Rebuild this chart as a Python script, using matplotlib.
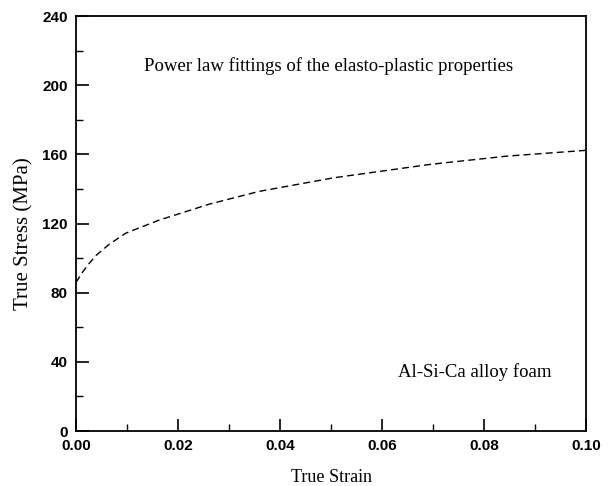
import matplotlib
matplotlib.use("Agg")
import matplotlib.pyplot as plt
from matplotlib.ticker import MultipleLocator

# points
strain = [0.0, 0.0013, 0.0026, 0.0039, 0.0065, 0.0098, 0.0163, 0.0261,
          0.0359, 0.0506, 0.0694, 0.0845, 0.0998, 0.1]
stress = [86.0, 92.0, 97.0, 101.5, 108.0, 114.5, 122.0, 131.2,
          138.6, 146.5, 154.2, 159.0, 162.3, 162.5]

x_ticks = [0.00, 0.02, 0.04, 0.06, 0.08, 0.10]
y_ticks = [0, 40, 80, 120, 160, 200, 240]

serif = "Liberation Serif"
sans = "Liberation Sans"

fig = plt.figure(figsize=(6.13, 4.86), dpi=100)
ax = fig.add_axes([0.124, 0.113, 0.832, 0.854])

ax.plot(strain, stress, color="black", lw=1.0, ls=(0, (5, 3)))

ax.set_xlim(0, 0.1)
ax.set_ylim(0, 240)
ax.set_xticks(x_ticks)
ax.set_yticks(y_ticks)
ax.set_xticklabels(["%.2f" % v for v in x_ticks])
ax.set_yticklabels([str(v) for v in y_ticks])
ax.xaxis.set_minor_locator(MultipleLocator(0.01))
ax.yaxis.set_minor_locator(MultipleLocator(20))
ax.tick_params(which="major", direction="in", length=9, width=1.2,
               top=False, right=False, pad=6)
ax.tick_params(which="minor", direction="in", length=5, width=1.0,
               top=False, right=False)
for lab in ax.get_xticklabels() + ax.get_yticklabels():
    lab.set_fontfamily(sans)
    lab.set_fontweight("bold")
    lab.set_fontsize(11)

for sp in ax.spines.values():
    sp.set_linewidth(1.3)

ax.set_xlabel("True Strain", fontfamily=serif, fontsize=13, labelpad=11)
ax.set_ylabel("True Stress (MPa)", fontfamily=serif, fontsize=15)
ax.yaxis.set_label_coords(-0.084, 0.475)

ax.text(0.0133, 211, "Power law fittings of the elasto-plastic properties",
        fontfamily=serif, fontsize=13.5, va="center", ha="left")
ax.text(0.0631, 34, "Al-Si-Ca alloy foam",
        fontfamily=serif, fontsize=13.5, va="center", ha="left")

fig.savefig("out.png", dpi=100)
